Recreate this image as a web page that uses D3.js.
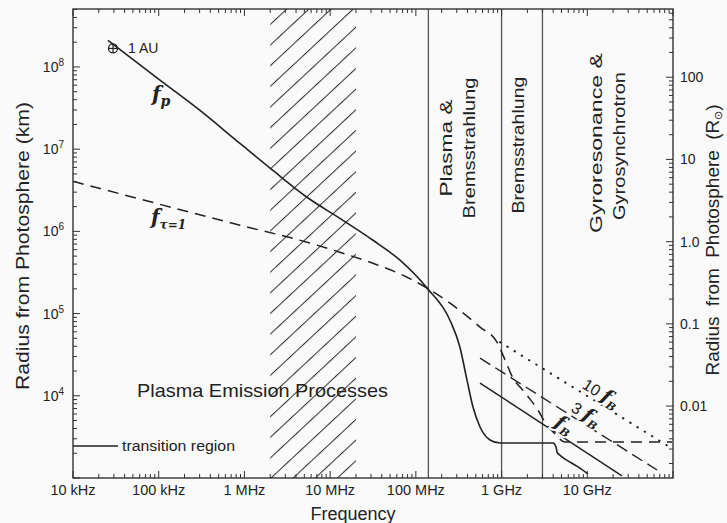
<!DOCTYPE html>
<html><head><meta charset="utf-8">
<script src="https://cdn.jsdelivr.net/npm/d3@7"></script>
<style>body{margin:0;background:#fafafa} svg{display:block}</style>
</head><body><svg id="c" width="727" height="523"></svg>
<script>
// ---- data (frequency in Hz, radius from photosphere in km) ----
const fpFreq   = [2.56e4, 1.007e5, 3.03e5, 8.87e5, 2.15e6, 5.37e6, 1.30e7, 3.16e7, 6.53e7, 1.35e8, 2.5e8, 3.27e8, 3.95e8, 4.64e8, 5.61e8, 7.33e8, 9.6e8, 1.88e9, 3.98e9, 4.32e9, 4.44e9, 4.94e9, 6.3e9, 8.2e9, 1.02e10];
const fpRadius = [2.1e8, 7.05e7, 2.96e7, 1.175e7, 5.52e6, 2.6e6, 1.44e6, 7.8e5, 4.46e5, 2.04e5, 8.3e4, 3.9e4, 1.55e4, 7.3e3, 4.17e3, 2.9e3, 2.66e3, 2.66e3, 2.66e3, 2.38e3, 2.07e3, 1.85e3, 1.56e3, 1.32e3, 1.12e3];
const tauFreq   = [1e4, 8.87e5, 5.37e6, 1.30e7, 3.16e7, 7.89e7, 1.35e8, 2.72e8, 5.61e8, 8.85e8, 1.10e9, 1.36e9, 1.73e9, 2.15e9, 2.66e9, 3.21e9, 4.2e9, 5.5e9, 9.75e10];
const tauRadius = [4.06e6, 1.19e6, 7.38e5, 5.57e5, 4.09e5, 2.77e5, 2.04e5, 1.26e5, 6.84e4, 4.49e4, 2.72e4, 1.64e4, 1.2e4, 9.1e3, 6.7e3, 4.79e3, 3.43e3, 2.74e3, 2.74e3];
const fB10Freq = [9.6e8, 9.17e9, 8.75e10];
const fB10Radius = [4.49e4, 1.05e4, 2.45e3];
const fB3Freq = [5.61e8, 6.52e10];
const fB3Radius = [2.87e4, 1.25e3];
const fB1Freq = [5.61e8, 2.54e10];
const fB1Radius = [1.43e4, 1.06e3];
const transFreq = [1e4, 3.35e4];
const transRadius = [2.45e3, 2.45e3];
const boundaryFreqs = [1.4e8, 1e9, 3e9];
const hatchFreqs = [2e6, 2e7];
const auPoint = [2.93e4, 1.68e8];
const xTickValues = [1e4, 1e5, 1e6, 1e7, 1e8, 1e9, 1e10];
const xTickLabels = ["10 kHz", "100 kHz", "1 MHz", "10 MHz", "100 MHz", "1 GHz", "10 GHz"];
const yTickValues = [1e4, 1e5, 1e6, 1e7, 1e8];
const yTickExps = ["4", "5", "6", "7", "8"];
const rTickValues = [100, 10, 1, 0.1, 0.01];
const rTickLabels = ["100", "10", "1.0", "0.1", "0.01"];

// ---- layout ----
const W = 727, H = 523, L = 73, R = 673, T = 9, B = 478;
const FONT = "'Liberation Sans', Arial, Helvetica, sans-serif";
const INK = "#222";
const svg = d3.select('#c');
const x = d3.scaleLog().domain([1e4, 1e11]).range([L, R]);
const y = d3.scaleLog().domain([1e3, 5.07e8]).range([B, T]);
const kmPerUnit = 7.5e5;
const yR = d3.scaleLog().domain([1e3 / kmPerUnit, 5.07e8 / kmPerUnit]).range([B, T]);

svg.append('rect').attr('width', W).attr('height', H).attr('fill', '#fafafa');
const defs = svg.append('defs');
defs.append('clipPath').attr('id', 'plot').append('rect')
  .attr('x', L).attr('y', T).attr('width', R - L).attr('height', B - T);
const pat = defs.append('pattern').attr('id', 'hatch')
  .attr('patternUnits', 'userSpaceOnUse').attr('width', 15.1).attr('height', 60)
  .attr('patternTransform', `translate(${x(hatchFreqs[0])},${B}) rotate(47)`);
pat.append('line').attr('x1', 0.5).attr('y1', -5).attr('x2', 0.5).attr('y2', 65)
  .attr('stroke', '#333').attr('stroke-width', 1.1);

const g = svg.append('g').attr('clip-path', 'url(#plot)');
g.append('rect').attr('x', x(hatchFreqs[0])).attr('y', T)
  .attr('width', x(hatchFreqs[1]) - x(hatchFreqs[0])).attr('height', B - T)
  .attr('fill', 'url(#hatch)');

g.selectAll('line.bound').data(boundaryFreqs).enter().append('line')
  .attr('x1', d => x(d)).attr('x2', d => x(d)).attr('y1', T).attr('y2', B)
  .attr('stroke', '#555').attr('stroke-width', 1.3);

const line = d3.line().x(d => x(d[0])).y(d => y(d[1])).curve(d3.curveMonotoneX);
const zip = (a, b) => a.map((v, i) => [v, b[i]]);
function curve(fx, ry, dash, w, round) {
  g.append('path').attr('d', line(zip(fx, ry))).attr('fill', 'none')
    .attr('stroke', INK).attr('stroke-width', w || 1.5)
    .attr('stroke-dasharray', dash || null).attr('stroke-linecap', round ? 'round' : 'butt');
}
curve(tauFreq, tauRadius, '11,7', 1.5);
curve(fB10Freq, fB10Radius, '0.5,8', 2.0, true);
curve(fB3Freq, fB3Radius, '12,6', 1.4);
curve(fB1Freq, fB1Radius, null, 1.5);
curve(fpFreq, fpRadius, null, 1.6);
curve(transFreq, transRadius, null, 1.4);

// 1 AU marker
const ax = x(auPoint[0]), ay = y(auPoint[1]);
g.append('circle').attr('cx', ax).attr('cy', ay).attr('r', 4.5).attr('fill', 'none').attr('stroke', INK).attr('stroke-width', 1.3);
g.append('line').attr('x1', ax - 4.5).attr('x2', ax + 4.5).attr('y1', ay).attr('y2', ay).attr('stroke', INK).attr('stroke-width', 1.2);
g.append('line').attr('x1', ax).attr('x2', ax).attr('y1', ay - 4.5).attr('y2', ay + 4.5).attr('stroke', INK).attr('stroke-width', 1.2);
svg.append('text').attr('x', ax + 15).attr('y', ay + 5).attr('font-family', FONT).attr('font-size', 14).attr('fill', INK).text('1 AU');

// curve labels
function fLabel(px, py) {
  return svg.append('text').attr('transform', `translate(${px},${py})`)
    .attr('font-family', "'DejaVu Serif', 'Liberation Serif', serif").attr('font-style', 'italic')
    .attr('font-weight', 'bold').attr('fill', INK);
}
let t = fLabel(152, 101);
t.append('tspan').attr('font-size', 20).text('f');
t.append('tspan').attr('font-size', 14).attr('dy', 5).text('p');
t = fLabel(151, 224);
t.append('tspan').attr('font-size', 20).text('f');
t.append('tspan').attr('font-size', 12).attr('dy', 5).text('τ=1');

function bLabel(px, py, num) {
  const tt = svg.append('text').attr('transform', `translate(${px},${py}) rotate(32)`)
    .attr('text-anchor', 'middle').attr('fill', INK)
    .attr('stroke', '#fafafa').attr('stroke-width', 4).attr('paint-order', 'stroke');
  if (num) tt.append('tspan').attr('font-family', FONT).attr('font-size', 16).text(num + ' ');
  tt.append('tspan').attr('font-family', "'DejaVu Serif', serif").attr('font-style', 'italic').attr('font-weight', 'bold').attr('font-size', 19).text('f');
  tt.append('tspan').attr('font-family', "'DejaVu Serif', serif").attr('font-style', 'italic').attr('font-weight', 'bold').attr('font-size', 11).attr('dy', 4).text('B');
}
bLabel(598, 398, '10');
bLabel(583, 419, '3');
bLabel(561, 430, null);

// region texts
function rotText(px, py, str, len, size) {
  svg.append('text').attr('transform', `translate(${px},${py}) rotate(-90)`)
    .attr('text-anchor', 'middle').attr('font-family', FONT).attr('font-size', size || 17)
    .attr('fill', INK).attr('textLength', len).attr('lengthAdjust', 'spacingAndGlyphs').text(str);
}
rotText(452, 148, 'Plasma  &', 97);
rotText(475, 148, 'Bremsstrahlung', 141);
rotText(524, 145, 'Bremsstrahlung', 137);
rotText(602, 143, 'Gyroresonance  &', 180);
rotText(625, 146, 'Gyrosynchrotron', 148);

svg.append('text').attr('x', 137).attr('y', 397).attr('font-family', FONT).attr('font-size', 19)
  .attr('fill', INK).attr('textLength', 251).attr('lengthAdjust', 'spacingAndGlyphs').text('Plasma Emission Processes');
svg.append('text').attr('x', 122).attr('y', 451).attr('font-family', FONT).attr('font-size', 14)
  .attr('fill', INK).attr('textLength', 113).attr('lengthAdjust', 'spacingAndGlyphs').text('transition region');

// ---- axes ----
const isMajor = v => Math.abs(Math.log10(v) - Math.round(Math.log10(v))) < 1e-6;
const ax_g = svg.append('g').attr('stroke', '#333').attr('stroke-width', 1);
x.ticks().forEach(v => {
  const len = isMajor(v) ? 7 : 4, px = x(v);
  ax_g.append('line').attr('x1', px).attr('x2', px).attr('y1', B).attr('y2', B - len);
  ax_g.append('line').attr('x1', px).attr('x2', px).attr('y1', T).attr('y2', T + len);
});
y.ticks().forEach(v => {
  const len = isMajor(v) ? 7 : 4, py = y(v);
  ax_g.append('line').attr('x1', L).attr('x2', L + len).attr('y1', py).attr('y2', py);
});
yR.ticks().forEach(v => {
  const len = isMajor(v) ? 7 : 4, py = yR(v);
  if (py < T || py > B) return;
  ax_g.append('line').attr('x1', R).attr('x2', R - len).attr('y1', py).attr('y2', py);
});
svg.append('rect').attr('x', L).attr('y', T).attr('width', R - L).attr('height', B - T)
  .attr('fill', 'none').attr('stroke', '#333').attr('stroke-width', 1.4);

xTickValues.forEach((v, i) => {
  svg.append('text').attr('x', x(v)).attr('y', 495).attr('text-anchor', 'middle')
    .attr('font-family', FONT).attr('font-size', 14.5).attr('fill', INK).text(xTickLabels[i]);
});
yTickValues.forEach((v, i) => {
  const tt = svg.append('text').attr('x', 64).attr('y', y(v) + 5).attr('text-anchor', 'end')
    .attr('font-family', FONT).attr('font-size', 14).attr('fill', INK);
  tt.append('tspan').text('10');
  tt.append('tspan').attr('font-size', 10).attr('dy', -6).text(yTickExps[i]);
});
rTickValues.forEach((v, i) => {
  svg.append('text').attr('x', 680).attr('y', yR(v) + 5).attr('font-family', FONT)
    .attr('font-size', 14).attr('fill', INK).text(rTickLabels[i]);
});

svg.append('text').attr('x', 353).attr('y', 520).attr('text-anchor', 'middle')
  .attr('font-family', FONT).attr('font-size', 18).attr('fill', INK).text('Frequency');
svg.append('text').attr('transform', 'translate(29,246) rotate(-90)').attr('text-anchor', 'middle')
  .attr('font-family', FONT).attr('font-size', 19).attr('fill', INK)
  .attr('textLength', 288).attr('lengthAdjust', 'spacingAndGlyphs').text('Radius from Photosphere (km)');
const rt = svg.append('text').attr('transform', 'translate(719,240) rotate(-90)').attr('text-anchor', 'middle')
  .attr('font-family', FONT).attr('font-size', 19).attr('fill', INK).attr('word-spacing', 5);
rt.append('tspan').text('Radius from Photosphere (R');
rt.append('tspan').attr('font-size', 11).attr('dy', 3).text('⊙');
rt.append('tspan').attr('dy', -3).text(')');
</script></body></html>
